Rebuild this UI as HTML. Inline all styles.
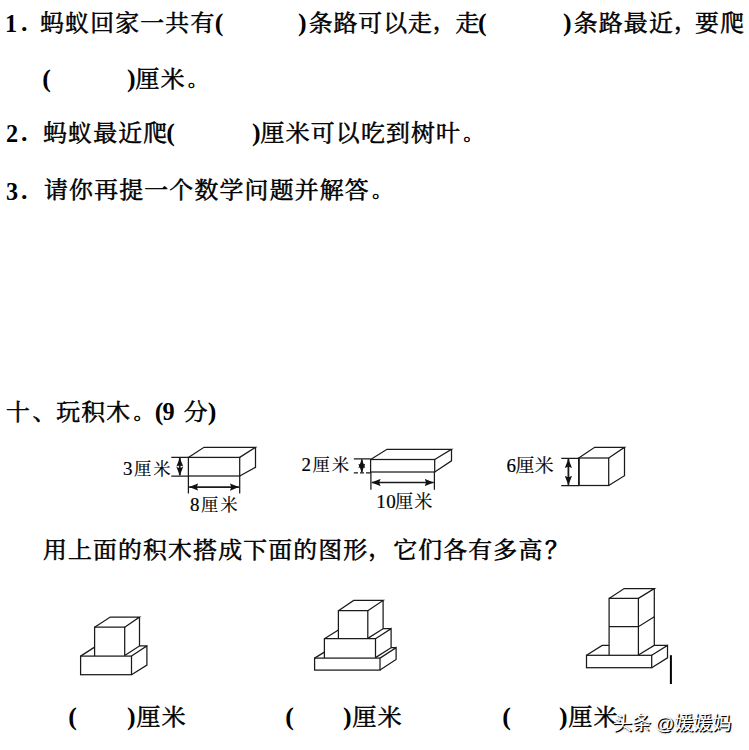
<!DOCTYPE html>
<html lang="zh-CN">
<head>
<meta charset="utf-8">
<title>玩积木</title>
<style>
html,body{margin:0;padding:0;background:#fff;}
body{width:749px;height:750px;position:relative;overflow:hidden;
  font-family:"Liberation Serif","Noto Serif CJK SC",serif;color:#000;}
.l{position:absolute;white-space:pre;font-weight:400;font-size:22.4px;line-height:34px;height:34px;
  letter-spacing:1.149px;transform:scaleX(1.065);transform-origin:0 0;-webkit-text-stroke:0.52px #000;}
.l i{font-style:normal;font-weight:700;font-size:24.3px;letter-spacing:0;-webkit-text-stroke:0;}
.l .fs{position:relative;top:-0.8px;left:2.2px;font-size:17.5px;margin-right:4.9px;}
.l .cm{position:relative;top:-2px;}
.l i.d{font-size:25.3px;display:inline-block;transform:scaleX(0.9);transform-origin:0 50%;}
.l i.o{margin-left:-0.6px;}
.l i.c{margin-right:0px;}
.s{position:absolute;white-space:pre;font-weight:400;font-size:17px;line-height:22px;height:22px;letter-spacing:2.2px;-webkit-text-stroke:0.2px #000;}
.s i{font-style:normal;font-size:19px;letter-spacing:0.4px;margin-right:1.4px;}
svg{position:absolute;left:0;top:0;}
.wm{position:absolute;white-space:pre;font-family:"Liberation Sans","Noto Sans CJK SC",sans-serif;font-size:19px;font-weight:400;word-spacing:-1.2px;line-height:20px;color:#fff;
  text-shadow:1.2px 1.2px 0.5px #000, 1px 1px 2px rgba(0,0,0,.55);}
</style>
</head>
<body>
<div class="l" style="left:5.2px;top:6px;"><i class="d">1</i></div>
<div class="l" style="left:21.0px;top:6px;"><i>.</i></div>
<div class="l" style="left:40.2px;top:6px;">蚂蚁回家一共有<i class="o">(</i></div>
<div class="l" style="left:298.4px;top:6px;letter-spacing:0.905px"><i class="c" style="margin-right:1.97px">)</i>条路可以走<span class="cm" style="margin-right:-2.07px">，</span>走<i class="o" style="margin-left:-2.07px">(</i></div>
<div class="l" style="left:562.6px;top:6px;"><i class="c" style="margin-right:1.97px">)</i>条路最近<span class="cm" style="margin-right:-3.76px">，</span>要爬</div>
<div class="l" style="left:42.6px;top:62px;"><i class="o">(</i></div>
<div class="l" style="left:127.0px;top:62px;"><i class="c">)</i>厘米<span class="fs">。</span></div>
<div class="l" style="left:6.2px;top:115.7px;"><i class="d">2</i></div>
<div class="l" style="left:21.0px;top:115.7px;"><i>.</i></div>
<div class="l" style="left:43.3px;top:115.7px;">蚂蚁最近爬<i class="o" style="margin-left:-1.88px">(</i></div>
<div class="l" style="left:252.0px;top:115.7px;"><i class="c">)</i>厘米可以吃到树叶<span class="fs">。</span></div>
<div class="l" style="left:6.2px;top:173.6px;"><i class="d">3</i></div>
<div class="l" style="left:21.0px;top:173.6px;"><i>.</i></div>
<div class="l" style="left:43.6px;top:173.6px;">请你再提一个数学问题并解答<span class="fs">。</span></div>
<div class="l" style="left:6.0px;top:394px;">十<span style="position:relative;left:1.4px">、</span>玩积木<span class="fs">。</span><i class="o" style="margin-left:-1.60px">(</i><i class="d" style="margin-left:-0.5px">9</i><i style="margin-right:0.8px"> </i>分<i class="c" style="margin-left:-1px">)</i></div>
<div class="l" style="left:43.0px;top:534px;letter-spacing:1.102px">用上面的积木搭成下面的图形<span class="cm" style="margin-right:0.00px">，</span>它们各有多高<span style="position:relative;left:1.6px;-webkit-text-stroke:0.8px #000">？</span></div>
<div class="l" style="left:69.0px;top:700px;"><i class="o">(</i></div>
<div class="l" style="left:126.7px;top:700px;"><i class="c" style="margin-right:0.94px">)</i>厘米</div>
<div class="l" style="left:286.3px;top:700px;"><i class="o">(</i></div>
<div class="l" style="left:343.0px;top:700px;"><i class="c" style="margin-right:0.94px">)</i>厘米</div>
<div class="l" style="left:503.3px;top:700px;"><i class="o">(</i></div>
<div class="l" style="left:558.8px;top:700px;"><i class="c" style="margin-right:0.94px">)</i>厘米</div>
<svg width="749" height="750" viewBox="0 0 749 750" fill="none" stroke="#1a1a1a" stroke-width="1.25" stroke-linejoin="miter" stroke-linecap="butt">
<defs>
<marker id="ah" viewBox="0 0 10 8" refX="10" refY="4" markerWidth="9" markerHeight="7.8" orient="auto-start-reverse" markerUnits="userSpaceOnUse">
<path d="M0,0 L10,4 L0,8 L1.6,4 Z" fill="#111" stroke="none"/></marker>
<marker id="as" viewBox="0 0 10 8" refX="10" refY="4" markerWidth="8.6" markerHeight="7.8" orient="auto-start-reverse" markerUnits="userSpaceOnUse">
<path d="M0,0 L10,4 L0,8 L1.6,4 Z" fill="#111" stroke="none"/></marker>
</defs>
<!-- block A : 3 x 8 -->
<g>
<rect x="188.4" y="457.4" width="51.3" height="18.6"/>
<path d="M188.4,457.4 L204,447.3 L255.5,447.3 L239.7,457.4 M255.5,446.7 L255.5,467.4 L239.7,476"/>
<path d="M171.3,457.4 H188.4 M171.3,476 H188.4 M188.4,476 V493.4 M239.7,476 V493.4"/>
<path d="M179.8,458 V475.4" stroke-width="1.8" marker-start="url(#as)" marker-end="url(#as)"/>
<path d="M189.2,487.1 H238.9" stroke-width="1.7" marker-start="url(#ah)" marker-end="url(#ah)"/>
</g>
<!-- block B : 2 x 10 -->
<g>
<rect x="370.6" y="459.5" width="64.1" height="12.5"/>
<path d="M370.6,459.5 L387,449.3 L451.5,449.3 L434.7,459.5 M451.5,448.7 L451.5,460.8 L434.7,472"/>
<path d="M353.8,458.9 H370.6 M353.8,472.8 H358 M360,472.8 H364 M366,472.8 H370.6 M370.9,472 V489.7 M434.4,472 V489.7"/>
<path d="M361.8,459.3 V472.4" stroke-width="1.7" marker-start="url(#as)" marker-end="url(#as)"/>
<path d="M371.6,482.5 H433.7" stroke-width="1.7" marker-start="url(#ah)" marker-end="url(#ah)"/>
</g>
<!-- block C : cube 6 -->
<g>
<rect x="578.7" y="458" width="30" height="27.5"/>
<path d="M578.7,458 L594.7,447.3 L624.5,447.3 L608.7,458 M624.5,446.7 L624.5,475.7 L608.7,485.5"/>
<path d="M578.9,458 V485.5" stroke-width="1.7"/>
<path d="M561.3,458.4 H578.7 M561.3,485.5 H578.7"/>
<path d="M568.4,459 V484.9" stroke-width="1.8" marker-start="url(#ah)" marker-end="url(#ah)"/>
</g>
<!-- figure 1 -->
<g>
<rect x="80.6" y="656.1" width="50.9" height="18.6"/>
<path d="M80.6,656.1 L94.6,647.1 M131.5,656.1 L146.9,645.9 L146.9,665.1 L131.5,674.7 M139.5,645.9 H146.9"/>
<path d="M94.6,656.1 V627.2 H124.7 V655.8"/>
<path d="M94.6,627.2 L110.3,617 L139.5,617 L124.7,627.2 M139.5,616.4 V645.9 L124.7,655.6"/>
</g>
<!-- figure 2 -->
<g>
<rect x="314.6" y="658.1" width="65.4" height="12"/>
<path d="M314.6,658.1 L324.4,652.1 M380,658.1 L396.1,647.7 L396.1,659.4 L380,670.1 M391.1,647.7 H396.1"/>
<path d="M324.4,658.1 V638.7 H375.5 V657.8"/>
<path d="M324.4,638.7 L338.4,630 M375.5,638.7 L391.1,628.7 L391.1,647.7 L375.5,657.6 M383.1,628.7 H391.1"/>
<path d="M338.4,638.7 V610.7 H367.8 V638.5"/>
<path d="M338.4,610.7 L353.7,600.4 L383.1,600.4 L367.8,610.7 M383.1,599.8 V628.7 L367.8,638.4"/>
</g>
<!-- figure 3 -->
<g>
<rect x="586.5" y="655.3" width="65.2" height="12.4"/>
<path d="M586.5,655.3 L602.2,645.4 L609.1,645.4 M651.7,655.3 L667.5,645.4 L667.5,657.8 L651.7,667.7 M654.3,645.4 H667.5"/>
<path d="M609.1,655.3 V598.4 H638.4 V655 M609.1,626.7 H638.4 L654.3,616.7"/>
<path d="M609.1,598.4 L624.2,588.5 L654.3,588.5 L638.4,598.4 M654.3,587.9 V645.4 L638.4,655"/>
</g>
<!-- text cursor -->
<path d="M670.9,655.2 V684" stroke="#000" stroke-width="2"/>
</svg>


<div class="s" style="left:123px;top:458px;"><i>3</i>厘米</div>
<div class="s" style="left:190px;top:494px;"><i>8</i>厘米</div>
<div class="s" style="left:301.5px;top:454px;"><i>2</i>厘米</div>
<div class="s" style="left:376.3px;top:491px;font-size:17.8px;letter-spacing:1.4px;"><i style="margin-right:-0.9px">10</i>厘米</div>
<div class="s" style="left:506.5px;top:454.5px;font-size:18.6px;letter-spacing:0.5px;"><i style="margin-right:-0.6px">6</i>厘米</div>
<div class="wm" style="left:613px;top:714px;">头条 @媛媛妈</div>

</body>
</html>
